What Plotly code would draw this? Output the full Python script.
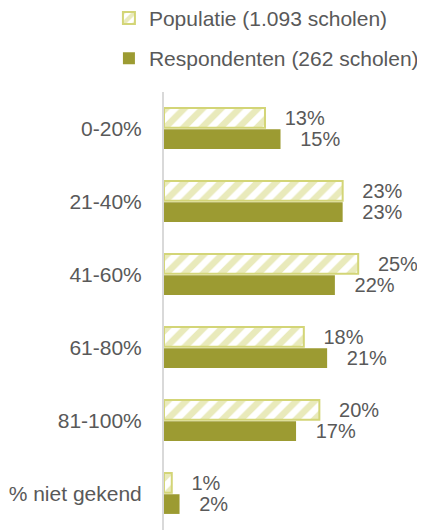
import plotly.graph_objects as go

categories = ["0-20%", "21-40%", "41-60%", "61-80%", "81-100%", "% niet gekend"]
populatie = [13, 23, 25, 18, 20, 1]
respondenten = [15, 23, 22, 21, 17, 2]
series_names = ["Populatie (1.093 scholen)", "Respondenten (262 scholen)"]

hatch_color = "#d3d577"
solid_color = "#9c9b32"
text_color = "#595959"
font_family = "Liberation Sans, Arial, sans-serif"

W, H = 417, 522
L, R, T, B = 156, 0, 84, 0

fig = go.Figure()
fig.add_trace(go.Bar(
    y=categories, x=populatie, orientation="h", name=series_names[0],
    legendgroup="a",
    marker=dict(color="white", line=dict(color=hatch_color, width=2),
                pattern=dict(shape="/", fgcolor=hatch_color, bgcolor="white",
                             size=13, solidity=0.5, fillmode="overlay")),
    texttemplate="\u00a0\u00a0\u00a0%{x}%", textposition="outside",
    textfont=dict(size=20, color=text_color, family=font_family),
    constraintext="none", cliponaxis=False,
))
fig.add_trace(go.Bar(
    y=categories, x=respondenten, orientation="h", name=series_names[1],
    legendgroup="b",
    marker=dict(color=solid_color, line=dict(width=0)),
    texttemplate="\u00a0\u00a0\u00a0%{x}%", textposition="outside",
    textfont=dict(size=20, color=text_color, family=font_family),
    constraintext="none", cliponaxis=False,
))

fig.update_layout(
    width=W, height=H,
    margin=dict(l=L, r=R, t=T, b=B, pad=0, autoexpand=False),
    paper_bgcolor="white", plot_bgcolor="white",
    barmode="group", bargap=0.42, bargroupgap=0.07,
    font=dict(family=font_family, size=20, color=text_color),
    showlegend=True,
    legend=dict(x=-0.211, xanchor="left", y=1.215, yanchor="top",
                traceorder="grouped", tracegroupgap=10,
                font=dict(size=21, color=text_color),
                itemwidth=30, bgcolor="rgba(0,0,0,0)"),
    xaxis=dict(range=[0, 33.6], visible=False, showgrid=False, zeroline=False),
    yaxis=dict(autorange="reversed", showline=True, linecolor="#d9d9d9",
               linewidth=2, showgrid=False, ticks="", ticklabelstandoff=16,
               tickfont=dict(size=21, color=text_color)),
)

fig.write_html("out.html")
